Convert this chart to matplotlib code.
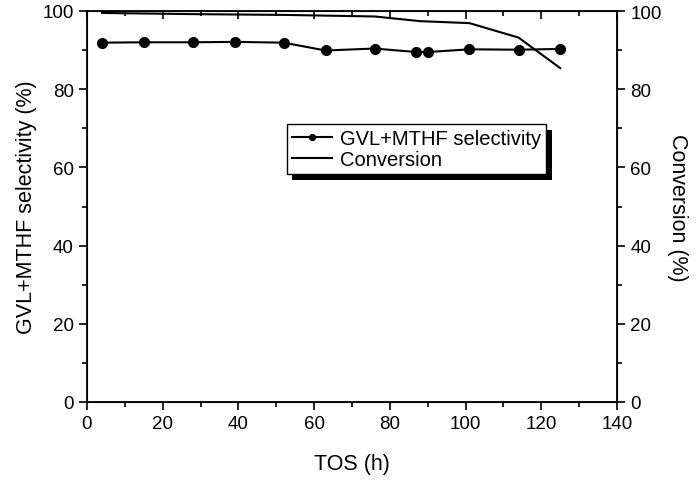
import matplotlib
matplotlib.use("Agg")
from matplotlib import pyplot as plt
from matplotlib.ticker import MultipleLocator
import matplotlib.patheffects as pe

plt.rcParams["font.family"] = ["Liberation Sans", "DejaVu Sans"]

# selectivity series
sel_tos = [4, 15, 28, 39, 52, 63, 76, 87, 90, 101, 114, 125]
sel_val = [91.9, 92.0, 92.0, 92.1, 91.9, 89.9, 90.4, 89.5, 89.5, 90.2, 90.1, 90.3]

# conversion series
conv_tos = [4, 28, 52, 76, 88, 101, 114, 125]
conv_val = [99.5, 99.2, 99.0, 98.6, 97.4, 96.9, 93.2, 85.4]

fig = plt.figure(figsize=(7, 4.81), dpi=100)
ax = fig.add_axes([87 / 700, 1 - 403 / 481, 530 / 700, 391 / 481])

l1, = ax.plot(sel_tos, sel_val, color="black", lw=1.5, marker="o", ms=7,
              label="GVL+MTHF selectivity")
l2, = ax.plot(conv_tos, conv_val, color="black", lw=1.5, label="Conversion")

ax.set_xlim(0, 140)
ax.set_ylim(0, 100)
ax.xaxis.set_major_locator(MultipleLocator(20))
ax.xaxis.set_minor_locator(MultipleLocator(10))
ax.yaxis.set_major_locator(MultipleLocator(20))
ax.yaxis.set_minor_locator(MultipleLocator(10))
ax.tick_params(which="both", direction="out", labelsize=13.5, width=1.2)
ax.tick_params(which="major", length=6)
ax.tick_params(which="minor", length=3.5)
ax.tick_params(axis="x", which="both", top=True, bottom=True)
for s in ax.spines.values():
    s.set_linewidth(1.3)

ax.set_xlabel("TOS (h)", fontsize=15.5, labelpad=15)
ax.set_ylabel("GVL+MTHF selectivity (%)", fontsize=15.5, labelpad=4)

ax2 = ax.twinx()
ax2.set_ylim(0, 100)
ax2.yaxis.set_major_locator(MultipleLocator(20))
ax2.yaxis.set_minor_locator(MultipleLocator(10))
ax2.tick_params(which="both", direction="out", labelsize=13.5, width=1.2)
ax2.tick_params(which="major", length=6)
ax2.tick_params(which="minor", length=3.5)
ax2.set_ylabel("Conversion (%)", fontsize=15.5, rotation=270, labelpad=19)

# top ticks point inwards
for t in ax.xaxis.get_major_ticks() + ax.xaxis.get_minor_ticks():
    t.tick2line.set_marker(matplotlib.lines.TICKDOWN)

leg = ax.legend(handles=[l1, l2], loc="upper left", bbox_to_anchor=(0.377, 0.711),
                fontsize=14.5, frameon=True, fancybox=False, shadow=False,
                handlelength=2.0, handletextpad=0.4, borderpad=0.25,
                labelspacing=0.1, borderaxespad=0, markerscale=0.6,
                framealpha=1.0, facecolor="white")
frame = leg.get_frame()
frame.set_edgecolor("black")
frame.set_linewidth(1.0)
frame.set_path_effects([pe.SimplePatchShadow(offset=(4, -4), shadow_rgbFace="black", alpha=1.0),
                        pe.Normal()])

fig.savefig("out.png", dpi=100)
